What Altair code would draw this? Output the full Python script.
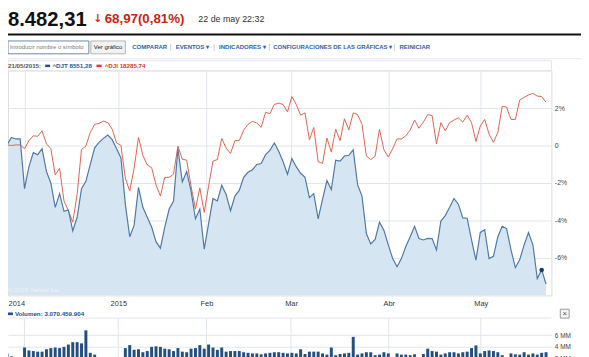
import altair as alt
import pandas as pd

# ---------------- data ----------------
month_ticks = [4.0, 25.4, 45.5, 64.8, 87.1, 108.1]
month_labels = ["2014", "2015", "Feb", "Mar", "Abr", "May"]
pct_ticks = [-6, -4, -2, 0, 2]
vol_ticks = [2, 4, 6]
hover_index = 122

# ^DJT relative change (%) per trading day
djt = [0.03, 0.43, 0.35, 0.35, -2.30, -1.13, -0.38, -0.49, -0.17, -1.39,
       -2.00, -3.30, -2.57, -3.51, -3.44, -4.56, -3.83, -2.30, -1.91, -1.01,
       -0.12, 0.17, 0.38, 0.56, 0.31, -0.17, -0.66, -3.13, -4.87, -4.26,
       -2.23, -3.30, -3.83, -4.35, -5.13, -5.48, -4.35, -3.39, -2.96, -0.17,
       -1.95, -1.39, -2.43, -3.91, -3.39, -5.53, -4.17, -2.83, -2.96, -2.12,
       -2.61, -3.48, -2.70, -2.40, -1.70, -1.43, -1.30, -1.01, -0.96, -0.49,
       -0.26, 0.14, -0.31, -0.87, -1.53, -0.70, -1.13, -1.48, -1.70, -2.78,
       -2.57, -3.91, -2.87, -1.87, -2.35, -0.78, -0.83, -0.56, -0.52, -0.23,
       -2.09, -2.70, -4.70, -5.25, -5.01, -4.09, -4.52, -5.30, -6.03, -6.47,
       -6.03, -5.39, -4.87, -4.31, -4.96, -5.04, -4.96, -4.97, -5.57, -4.03,
       -3.74, -3.30, -2.83, -3.13, -3.86, -3.88, -5.04, -6.12, -4.64, -4.49,
       -6.03, -5.91, -4.87, -4.31, -4.43, -5.57, -6.52, -6.09, -5.30, -4.64,
       -5.30, -7.10, -6.64, -7.39]

# ^DJI relative change (%) per trading day
dji = [0.03, 0.00, 0.03, 0.03, -0.17, 0.26, 0.52, 0.49, 0.78, 0.09,
       -0.17, -1.57, -1.22, -2.96, -3.48, -4.09, -2.61, -0.21, -0.03, 0.70,
       1.13, 1.18, 1.30, 1.22, 0.87, 0.14, 0.00, -1.74, -2.43, -1.22,
       0.43, -0.52, -1.04, -1.18, -2.09, -2.70, -1.70, -1.70, -1.53, -0.03,
       -0.73, -0.78, -2.17, -3.39, -2.26, -3.57, -2.17, -0.83, -0.75, 0.38,
       -0.14, -0.43, 0.26, 0.26, 0.82, 1.13, 1.29, 1.20, 0.97, 1.77,
       1.70, 2.19, 2.26, 2.19, 1.79, 2.61, 2.19, 1.62, 1.74, 0.31,
       0.96, -0.87, -0.96, 0.40, -0.35, 0.87, 0.26, 1.43, 0.83, 1.74,
       1.65, 1.13, -0.56, -0.75, -0.57, 0.87, -0.23, -0.61, -0.17, 0.35,
       0.35, 0.52, 0.83, 1.36, 0.92, 1.25, 1.65, 1.60, 0.09, 1.22,
       0.78, 1.22, 1.36, 1.48, 1.25, 1.62, 1.22, 0.21, 1.04, 1.39,
       0.61, 0.17, 0.70, 2.09, 2.05, 1.39, 1.39, 2.43, 2.57, 2.70,
       2.78, 2.64, 2.61, 2.31]

# volume (millions of shares)
volume = [2.9, 2.4, 2.0, 1.4, 3.9, 3.4, 3.3, 3.2, 3.2, 3.6,
          3.8, 3.9, 3.8, 4.0, 4.4, 4.8, 4.8, 4.6, 6.8, 3.0,
          2.7, 1.4, 1.2, 1.8, 1.9, 2.1, 2.3, 3.8, 4.3, 3.5,
          3.6, 3.1, 3.3, 4.0, 4.1, 4.0, 3.7, 3.6, 3.3, 3.8,
          3.2, 3.1, 3.7, 3.8, 4.3, 3.7, 4.4, 3.9, 3.5, 3.9,
          3.2, 3.3, 3.3, 3.3, 3.1, 3.0, 2.9, 2.9, 2.75, 2.9,
          3.0, 3.1, 3.1, 3.0, 2.9, 3.0, 2.9, 3.6, 2.8, 3.2,
          3.2, 3.2, 2.9, 2.7, 3.9, 2.6, 2.8, 2.9, 3.0, 5.7,
          2.7, 2.9, 3.1, 3.1, 2.6, 2.7, 3.1, 2.9, 1.8, 2.9,
          2.7, 2.7, 2.6, 2.75, 1.6, 2.8, 3.7, 3.3, 3.2, 2.7,
          2.9, 3.1, 3.1, 2.9, 3.1, 3.2, 3.8, 4.25, 2.9, 3.3,
          3.4, 3.3, 3.1, 2.6, 1.6, 2.9, 2.75, 2.7, 3.1, 2.7,
          2.9, 2.7, 3.0, 3.1]

djt_df = pd.DataFrame({"i": list(range(len(djt))), "v": djt})
dji_df = pd.DataFrame({"i": list(range(len(dji))), "v": dji})
vol_df = pd.DataFrame({"i": list(range(len(volume))), "v": volume})
tick_df = pd.DataFrame({"i": month_ticks})

# ---------------- styling ----------------
FONT = "Liberation Sans"
W, H = 551, 228
BLUE_FILL = "#d6e5f2"
BLUE_LINE = "#4f79a6"
RED_LINE = "#e0644e"
GRID = "#dfe5ec"
LINK = "#2f62a8"

tick_list = "[" + ",".join(str(t) for t in month_ticks) + "]"
label_list = "[" + ",".join("'%s'" % l for l in month_labels) + "]"

xscale = alt.Scale(domain=[1.35, 123.1], nice=False, zero=False)
xaxis = alt.Axis(
    values=month_ticks, labelExpr=f"{label_list}[indexof({tick_list}, datum.value)]",
    grid=True, gridColor=GRID, domain=False, ticks=False, labelFontSize=7.5,
    labelColor="#333", labelPadding=4, title=None, labelFont=FONT,
    labelAlign={"condition": {"test": "datum.value < 10", "value": "right"}, "value": "center"},
    orient="bottom")
X = alt.X("i:Q", scale=xscale, axis=xaxis)

yscale = alt.Scale(domain=[-8, 4], nice=False, zero=False)
yaxis = alt.Axis(values=pct_ticks, orient="right", grid=True, gridColor=GRID, domain=False,
                 ticks=False, labelFontSize=7, labelColor="#444", labelPadding=3, title=None,
                 labelExpr="datum.value == 0 ? '0' : datum.value + '%'", labelFont=FONT)

area = alt.Chart(djt_df).mark_area(color=BLUE_FILL, opacity=1, clip=True).encode(
    x=X, y=alt.Y("v:Q", scale=yscale, axis=yaxis), y2=alt.datum(-8))
red = alt.Chart(dji_df).mark_line(color=RED_LINE, strokeWidth=1, clip=True).encode(
    x=X, y=alt.Y("v:Q", scale=yscale, axis=yaxis))
blue = alt.Chart(djt_df).mark_line(color=BLUE_LINE, strokeWidth=1.2, clip=True).encode(
    x=X, y=alt.Y("v:Q", scale=yscale, axis=yaxis))
dot = alt.Chart(djt_df).transform_filter(f"datum.i == {hover_index}").mark_circle(
    color="#1b3d6d", size=22, opacity=1).encode(x=X, y=alt.Y("v:Q", scale=yscale, axis=yaxis))
main = alt.layer(area, red, blue, dot)

# volume panel (own y scale placed below the main plot)
vscale = alt.Scale(domain=[0, 9], range=[304.2, 250.2], nice=False)
vaxis = alt.Axis(values=vol_ticks, orient="right", grid=True, gridColor=GRID, domain=False,
                 ticks=False, labelFontSize=6.5, labelColor="#444", labelPadding=3, title=None,
                 labelExpr="datum.value + ' MM'", labelFont=FONT)
vgrid = alt.Chart(tick_df).mark_rule(color=GRID, strokeWidth=1).encode(
    x=X, y=alt.value(251), y2=alt.value(300))
vbars = alt.Chart(vol_df).mark_bar(color="#24507f", size=3, clip=False).encode(
    x=X, y=alt.Y("v:Q", scale=vscale, axis=vaxis))
vol = alt.layer(vgrid, vbars)


def txt(s, x, y, size=7, color="#333", weight="normal", align="left", baseline="middle", font=FONT):
    return alt.Chart(pd.DataFrame({"t": [s]})).mark_text(
        align=align, baseline=baseline, fontSize=size, color=color, fontWeight=weight, font=font
    ).encode(x=alt.value(x), y=alt.value(y), text="t:N")


def box(x1, x2, y1, y2, fill, stroke, sw=1):
    return alt.Chart(pd.DataFrame({"a": [0]})).mark_rect(fill=fill, stroke=stroke, strokeWidth=sw).encode(
        x=alt.value(x1), x2=alt.value(x2), y=alt.value(y1), y2=alt.value(y2))


def hline(x1, x2, y, color, sw=1):
    return alt.Chart(pd.DataFrame({"a": [0]})).mark_rule(color=color, strokeWidth=sw).encode(
        x=alt.value(x1), x2=alt.value(x2), y=alt.value(y))


def vline(x, y1, y2, color, sw=1):
    return alt.Chart(pd.DataFrame({"a": [0]})).mark_rule(color=color, strokeWidth=sw).encode(
        x=alt.value(x), y=alt.value(y1), y2=alt.value(y2))


header = [
    txt("8.482,31", 0, -45.5, size=20.5, color="#111", weight="bold", baseline="alphabetic"),
    txt("↓", 91, -49, size=11, color="#d42a1a", weight="bold", align="center", baseline="alphabetic",
        font="DejaVu Sans"),
    txt("68,97(0,81%)", 98, -48.5, size=13.5, color="#cc1f10", weight="bold", baseline="alphabetic"),
    txt("22 de may 22:32", 193, -49, size=9, color="#333", baseline="alphabetic"),
    hline(0, 581, -36.5, "#111", 2),
    box(0, 82, -30, -17, "#ffffff", "#6d86a8"),
    txt("Introducir nombre o símbolo", 2, -23.5, size=6.0, color="#777"),
    box(84, 119, -30, -17, "#f2f2f2", "#b5b5b5"),
    txt("Ver gráfico", 101.5, -23.5, size=6.1, color="#222", align="center"),
    txt("COMPARAR", 126, -23.5, size=6.1, color=LINK, weight="bold"),
    vline(165, -27, -20, "#cccccc"),
    txt("EVENTOS ▾", 170, -23.5, size=6.1, color=LINK, weight="bold"),
    vline(209, -27, -20, "#cccccc"),
    txt("INDICADORES ▾", 214, -23.5, size=6.1, color=LINK, weight="bold"),
    vline(265, -27, -20, "#cccccc"),
    txt("CONFIGURACIONES DE LAS GRÁFICAS ▾", 269, -23.5, size=6.0, color=LINK, weight="bold"),
    vline(392, -27, -20, "#cccccc"),
    txt("REINICIAR", 397, -23.5, size=6.1, color=LINK, weight="bold"),
    hline(0, 581, -12, "#e6e6e6"),
    box(0, 551, -10, 0, "#ffffff", "#dfe5ec"),
    txt("21/05/2015:", 0, -4.7, size=6.3, color="#555", weight="bold"),
    box(37.7, 42.7, -6, -3.5, "#1f4f8b", "#1f4f8b", 0),
    txt("^DJT 8551,28", 45, -4.7, size=6.3, color="#2a5a95", weight="bold"),
    box(89.7, 95, -6, -3.5, "#e03a2a", "#e03a2a", 0),
    txt("^DJI 18285,74", 98, -4.7, size=6.3, color="#d9381e", weight="bold"),
    txt("© 2015 Yahoo! Inc.", 0, 222.7, size=6.3, color="#eef3f8"),
    hline(0, 551, 251, "#dfe5ec"),
    box(0, 5, 245.3, 248, "#1f4f8b", "#1f4f8b", 0),
    txt("Volumen: 3.070.459.904", 7, 246.7, size=6.3, color="#1f4f8b", weight="bold"),
    box(560, 569, 242, 251, "#f4f4f4", "#999999"),
    txt("×", 564.5, 246.8, size=8, color="#555", align="center"),
]

chart = alt.layer(main, vol, *header).resolve_scale(y="independent").properties(
    width=W, height=H,
    padding={"left": 0, "top": 61, "right": 30, "bottom": 60},
    autosize=alt.AutoSizeParams(type="none"),
).configure_view(stroke="#dfe5ec").configure(font=FONT)

chart.save("out.html", embed_options={"renderer": "svg", "actions": False})
